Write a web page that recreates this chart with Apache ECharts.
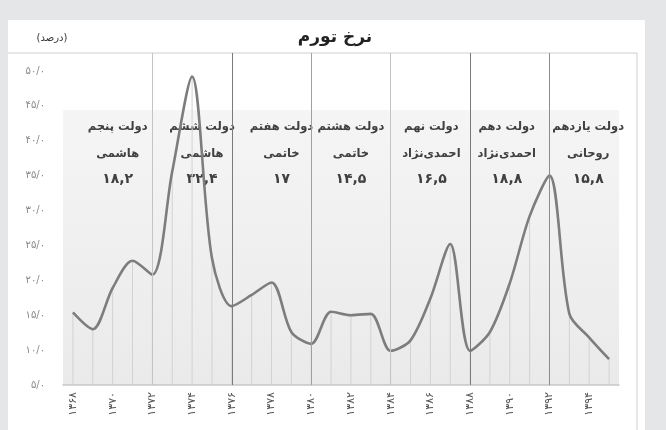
<!DOCTYPE html>
<html lang="fa">
<head>
    <meta charset="UTF-8">
    <title>نرخ تورم</title>
    <script src="https://cdn.jsdelivr.net/npm/echarts@6/dist/echarts.min.js"></script>
    <style>
        html, body { margin: 0; padding: 0; background: #e5e6e8; }
    </style>
</head>
<body>
<div id="chart" style="width: 666px;height: 430px;"></div>
</body>
<script>
    // سال‌ها و نرخ تورم (درصد)
    var years = [1368, 1369, 1370, 1371, 1372, 1373, 1374, 1375, 1376, 1377,
                 1378, 1379, 1380, 1381, 1382, 1383, 1384, 1385, 1386, 1387,
                 1388, 1389, 1390, 1391, 1392, 1393, 1394, 1395];
    var inflation = [15.4, 13.0, 18.9, 22.8, 20.8, 35.6, 49.2, 23.2, 16.3, 17.9,
                     19.7, 12.6, 10.9, 15.5, 15.0, 15.2, 9.9, 11.4, 17.4, 25.2,
                     9.9, 12.6, 19.6, 29.2, 35.0, 15.2, 11.8, 8.7];

    // دولت‌ها
    var govNames = ['دولت پنجم', 'دولت ششم', 'دولت هفتم', 'دولت هشتم', 'دولت نهم', 'دولت دهم', 'دولت یازدهم'];
    var govPresidents = ['هاشمی', 'هاشمی', 'خاتمی', 'خاتمی', 'احمدی‌نژاد', 'احمدی‌نژاد', 'روحانی'];
    var govAverages = [18.2, 32.4, 17, 14.5, 16.5, 18.8, 15.8];
    var govStartYears = [1368, 1372, 1376, 1380, 1384, 1388, 1392];
    var boundaryColors = ['#c4c4c4', '#7a7a7a', '#a0a0a0', '#c4c4c4', '#7a7a7a', '#8c8c8c'];
    var labelShift = [5, 10, 10, 0, 1, -3, -1];

    var yTicks = [5, 10, 15, 20, 25, 30, 35, 40, 45, 50];

    var toFa = function (s) {
        return String(s).replace(/\d/g, function (d) { return '۰۱۲۳۴۵۶۷۸۹'[d]; });
    };
    var faFont = 'DejaVu Sans';

    var boundaryData = [];
    for (var i = 1; i < govStartYears.length; i++) {
        boundaryData.push({
            xAxis: govStartYears[i] - years[0],
            lineStyle: {color: boundaryColors[i - 1], width: 1, type: 'solid'}
        });
    }

    var myChart = echarts.init(document.getElementById('chart'));

    var option = {
        backgroundColor: '#e5e6e8',
        animation: false,
        grid: {left: 63, right: 47, top: 53, bottom: 45},
        xAxis: {
            type: 'category',
            boundaryGap: true,
            data: years.map(toFa),
            axisLine: {lineStyle: {color: '#c6c6c6', width: 1.5}},
            axisTick: {show: false},
            axisLabel: {
                interval: 1,
                rotate: 90,
                margin: 7,
                color: '#555',
                fontSize: 11,
                fontFamily: faFont
            },
            splitLine: {show: false}
        },
        yAxis: {
            type: 'value',
            min: 5,
            max: 52.58,
            interval: 5,
            axisLine: {show: false},
            axisTick: {show: false},
            splitLine: {show: false},
            axisLabel: {
                margin: 18,
                color: '#888',
                fontSize: 10,
                fontFamily: faFont,
                formatter: function (v) {
                    return yTicks.indexOf(v) >= 0 ? toFa(v) + '/۰' : '';
                }
            }
        },
        series: [
            {
                // خطوط عمودی زیر منحنی
                type: 'bar',
                data: inflation,
                barWidth: 1,
                silent: true,
                itemStyle: {color: '#d2d2d2'},
                z: 1
            },
            {
                name: 'نرخ تورم',
                type: 'line',
                data: inflation,
                smooth: 0.3,
                symbol: 'none',
                lineStyle: {color: '#7d7d7d', width: 2.6},
                markLine: {
                    silent: true,
                    symbol: ['none', 'none'],
                    label: {show: false},
                    data: boundaryData
                },
                z: 3
            }
        ]
    };

    myChart.setOption(option);

    var graphics = [
        // پنل سفید
        {type: 'rect', shape: {x: 8, y: 20, width: 637, height: 420}, style: {fill: '#fff'}, z: -10},
        // پس‌زمینه‌ی ناحیه‌ی نمودار
        {
            type: 'rect', shape: {x: 63, y: 110, width: 556, height: 275}, z: -9,
            style: {
                fill: new echarts.graphic.LinearGradient(0, 0, 0, 1, [
                    {offset: 0, color: '#f5f5f5'},
                    {offset: 1, color: '#eaeaea'}
                ])
            }
        },
        {type: 'line', shape: {x1: 8, y1: 53, x2: 637, y2: 53}, style: {stroke: '#cfcfcf', lineWidth: 1}, z: -8},
        {type: 'line', shape: {x1: 637, y1: 53, x2: 637, y2: 430}, style: {stroke: '#cfcfcf', lineWidth: 1}, z: -8},
        {
            type: 'text', x: 335, y: 38, z: 5,
            style: {text: 'نرخ تورم', fill: '#222', font: 'bold 17px "DejaVu Sans"', align: 'center', verticalAlign: 'middle'}
        },
        {
            type: 'text', x: 52, y: 38, z: 5,
            style: {text: '(درصد)', fill: '#333', font: '10px "DejaVu Sans"', align: 'center', verticalAlign: 'middle'}
        }
    ];

    for (var g = 0; g < govNames.length; g++) {
        var midIndex = govStartYears[g] - years[0] + 2;
        var cx = myChart.convertToPixel({xAxisIndex: 0}, midIndex) + labelShift[g];
        var lines = [
            {text: govNames[g], y: 127, size: 11.5},
            {text: govPresidents[g], y: 154, size: 11.5},
            {text: toFa(String(govAverages[g]).replace('.', ',')), y: 179, size: 14}
        ];
        for (var k = 0; k < lines.length; k++) {
            graphics.push({
                type: 'text', x: cx, y: lines[k].y, z: 1,
                style: {
                    text: lines[k].text,
                    fill: '#404040',
                    font: 'bold ' + lines[k].size + 'px "DejaVu Sans"',
                    align: 'center',
                    verticalAlign: 'middle'
                }
            });
        }
    }

    myChart.setOption({graphic: {elements: graphics}});
</script>
</html>
